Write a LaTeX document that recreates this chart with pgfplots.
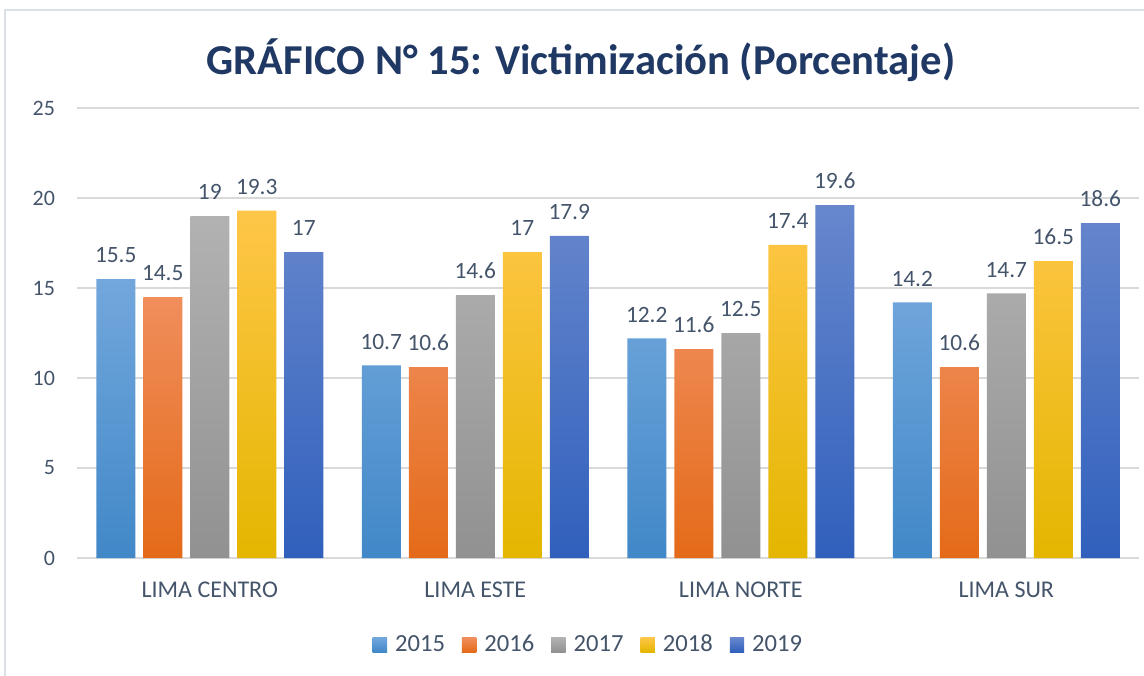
\documentclass[border=0pt]{standalone}
\usepackage{fontspec}
\setmainfont{Carlito}
\usepackage{pgfplots}
\pgfplotsset{compat=1.18}
\definecolor{txt}{RGB}{68,84,106}
\definecolor{titlecol}{RGB}{31,56,100}
\definecolor{gridc}{RGB}{217,217,217}
\definecolor{framec}{RGB}{219,224,232}
\definecolor{aT}{RGB}{114,167,220}\definecolor{aB}{RGB}{65,136,200}
\definecolor{bT}{RGB}{240,142,92}\definecolor{bB}{RGB}{228,106,24}
\definecolor{cT}{RGB}{178,178,178}\definecolor{cB}{RGB}{145,145,145}
\definecolor{dT}{RGB}{255,198,72}\definecolor{dM}{RGB}{255,192,0}\definecolor{dB}{RGB}{228,182,0}
\definecolor{eT}{RGB}{103,135,205}\definecolor{eB}{RGB}{48,96,188}
\pgfplotsset{
  /pgfplots/ybar legend/.style={
    /pgfplots/legend image code/.code={\fill[##1,/tikz/.cd] (0pt,-3.6pt) rectangle (7.2pt,3.6pt);}},
}
\begin{document}
\begin{tikzpicture}[x=0.5pt,y=0.5pt]
\useasboundingbox (0,0) rectangle (1144,675);
\draw[framec, line width=1.2pt] (5,-20) rectangle (1170,665);
\node[font=\fontsize{21.3}{25}\selectfont\bfseries, text=titlecol] at (581,615) {GRÁFICO N° 15: Victimización (Porcentaje)};
\begin{axis}[
  at={(38.5pt,58.5pt)}, anchor=south west,
  width=531pt, height=225pt, scale only axis,
  xmin=-0.5, xmax=3.5, ymin=0, ymax=25,
  ytick={0,5,...,25},
  xtick={0,1,2,3},
  xticklabels={LIMA CENTRO, LIMA ESTE, LIMA NORTE, LIMA SUR},
  axis x line*=bottom, axis y line*=left,
  y axis line style={draw=none},
  x axis line style={draw=gridc, line width=1pt, -},
  major tick length=0pt,
  ymajorgrids, grid style={draw=gridc, line width=0.8pt},
  /pgf/number format/assume math mode=true,
  yticklabel style={font=\fontsize{11}{13}\selectfont, text=txt, xshift=-7.5pt},
  xticklabel style={font=\fontsize{12}{14}\selectfont, text=txt, yshift=-8.5pt},
  ybar=4pt, bar width=19.5pt,
  nodes near coords,
  nodes near coords style={font=\fontsize{11.7}{13}\selectfont, text=txt, yshift=4.5pt},
  legend columns=5,
  legend style={at={(axis description cs:0.482,-0.193)}, anchor=center, draw=none,
    font=\fontsize{12.3}{14}\selectfont, text=txt, column sep=2.5pt,
    nodes={inner xsep=1.5pt},
    /tikz/every even column/.append style={column sep=7pt}},
  clip=false,
]
\addplot[draw=none, top color=aT, bottom color=aB] coordinates {(0,15.5) (1,10.7) (2,12.2) (3,14.2)};
\addplot[draw=none, top color=bT, bottom color=bB] coordinates {(0,14.5) (1,10.6) (2,11.6) (3,10.6)};
\addplot[draw=none, top color=cT, bottom color=cB] coordinates {(0,19) (1,14.6) (2,12.5) (3,14.7)};
\addplot[draw=none, top color=dT, middle color=dM, bottom color=dB] coordinates {(0,19.3) (1,17) (2,17.4) (3,16.5)};
\addplot[draw=none, top color=eT, bottom color=eB] coordinates {(0,17) (1,17.9) (2,19.6) (3,18.6)};
\legend{2015,2016,2017,2018,2019}
\end{axis}
\end{tikzpicture}
\end{document}
